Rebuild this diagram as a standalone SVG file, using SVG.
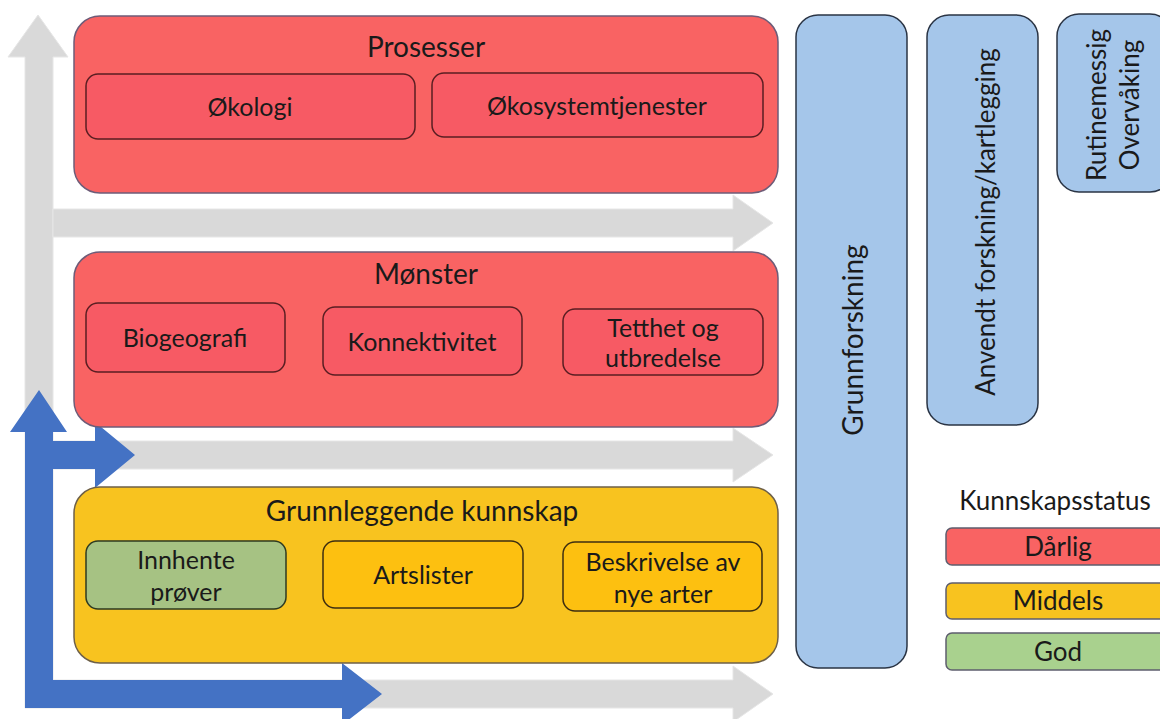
<svg xmlns="http://www.w3.org/2000/svg" width="1160" height="719" viewBox="0 0 1160 719">
<style>
  text { font-family: Lato, "Open Sans", "Liberation Sans", sans-serif; fill: #1a1a1a; text-anchor: middle; dominant-baseline: central; }
  .t28 { font-size: 28px; }
  .t26 { font-size: 26px; }
  .t25 { font-size: 25px; }
  .red { fill: #F96363; stroke: #6E5C78; stroke-width: 1.5; }
  .redsub { fill: #F75A64; stroke: #5A1E22; stroke-width: 1.5; }
  .yel { fill: #F8C31F; stroke: #6E6048; stroke-width: 1.5; }
  .yelsub { fill: #FDC010; stroke: #3E2E10; stroke-width: 1.5; }
  .grnsub { fill: #A6C283; stroke: #2E3A22; stroke-width: 1.5; }
  .blue { fill: #A5C6EA; stroke: #2A3444; stroke-width: 1.5; }
  .gray { fill: #D9D9D9; stroke: #E6E6E6; stroke-width: 1; }
  .bluearrow { fill: #4472C4; }
  .leg { stroke: #5E5E6E; stroke-width: 1.5; }
</style>
<rect width="1160" height="719" fill="#ffffff"/>
<g id="connectors">
  <path class="gray" d="M38,15 L68,57 L53,57 L53,708 L25,708 L25,57 L8,57 Z"/>
  <path class="gray" d="M53,209 L733,209 L733,195 L773,223 L733,251 L733,237 L53,237 Z"/>
  <path class="gray" d="M53,441 L733,441 L733,428 L773,455 L733,482 L733,469 L53,469 Z"/>
  <path class="gray" d="M53,680 L733,680 L733,666 L773,694 L733,722 L733,708 L53,708 Z"/>
  <path class="bluearrow" d="M39,390 L67,432 L53,432 L53,441 L95,441 L95,422 L135,455 L95,488 L95,469 L53,469 L53,680 L342,680 L342,663 L382,694 L342,725 L342,708 L25,708 L25,432 L10,432 Z"/>
</g>
<g id="prosesser">
  <rect class="red" x="74" y="16" width="704" height="177" rx="26"/>
  <text class="t28" x="426" y="46">Prosesser</text>
</g>
<g id="okologi">
  <rect class="redsub" x="86" y="74" width="329" height="65" rx="12"/>
  <text class="t25" x="250" y="106">Økologi</text>
</g>
<g id="okosystemtjenester">
  <rect class="redsub" x="432" y="73" width="331" height="64" rx="12"/>
  <text class="t25" x="597" y="105">Økosystemtjenester</text>
</g>
<g id="monster">
  <rect class="red" x="74" y="252" width="704" height="175" rx="26"/>
  <text class="t28" x="426" y="273">Mønster</text>
</g>
<g id="biogeografi">
  <rect class="redsub" x="86" y="303" width="199" height="69" rx="12"/>
  <text class="t25" x="185" y="337">Biogeografi</text>
</g>
<g id="konnektivitet">
  <rect class="redsub" x="323" y="307" width="199" height="68" rx="12"/>
  <text class="t25" x="422" y="341">Konnektivitet</text>
</g>
<g id="tetthet">
  <rect class="redsub" x="563" y="309" width="200" height="66" rx="12"/>
  <text class="t25" x="663" y="327">Tetthet og</text>
  <text class="t25" x="663" y="357">utbredelse</text>
</g>
<g id="grunnleggende">
  <rect class="yel" x="74" y="487" width="704" height="176" rx="26"/>
  <text class="t28" x="422" y="510">Grunnleggende kunnskap</text>
</g>
<g id="innhente">
  <rect class="grnsub" x="86" y="541" width="200" height="68" rx="12"/>
  <text class="t25" x="186" y="559">Innhente</text>
  <text class="t25" x="186" y="591">prøver</text>
</g>
<g id="artslister">
  <rect class="yelsub" x="323" y="541" width="200" height="67" rx="12"/>
  <text class="t25" x="423" y="574">Artslister</text>
</g>
<g id="beskrivelse">
  <rect class="yelsub" x="563" y="542" width="199" height="69" rx="12"/>
  <text class="t25" x="663" y="561">Beskrivelse av</text>
  <text class="t25" x="663" y="593">nye arter</text>
</g>
<g id="grunnforskning">
  <rect class="blue" x="796" y="15" width="111" height="653" rx="22"/>
  <text class="t28" transform="translate(852,340) rotate(-90)">Grunnforskning</text>
</g>
<g id="anvendt">
  <rect class="blue" x="927" y="15" width="111" height="410" rx="22"/>
  <text class="t26" transform="translate(985,222) rotate(-90)">Anvendt forskning/kartlegging</text>
</g>
<g id="rutinemessig">
  <rect class="blue" x="1057" y="14" width="115" height="178" rx="22"/>
  <text class="t26" transform="translate(1096,105) rotate(-90)">Rutinemessig</text>
  <text class="t26" transform="translate(1129,105) rotate(-90)">Overvåking</text>
</g>
<g id="legend">
  <text class="t26" x="1055" y="500">Kunnskapsstatus</text>
  <rect class="leg" x="946" y="528" width="230" height="37" rx="6" fill="#F96363"/>
  <text class="t26" x="1058" y="546">Dårlig</text>
  <rect class="leg" x="946" y="583" width="230" height="36" rx="6" fill="#F8C31F"/>
  <text class="t26" x="1058" y="600">Middels</text>
  <rect class="leg" x="946" y="633" width="230" height="37" rx="6" fill="#A9D18E"/>
  <text class="t26" x="1058" y="651">God</text>
</g>
</svg>
